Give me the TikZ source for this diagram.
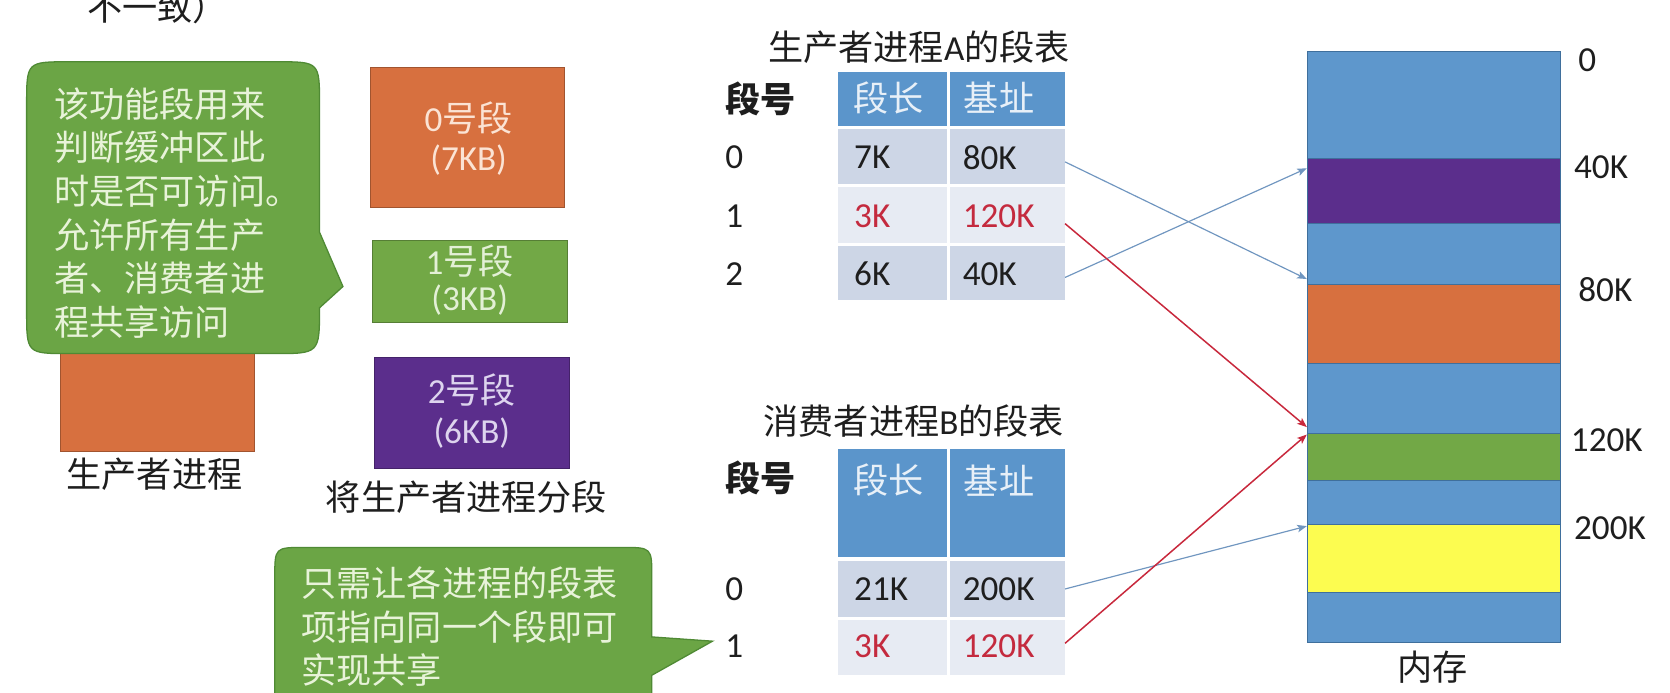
\documentclass[tikz,border=0pt]{standalone}
\usepackage{fontspec}
\setmainfont{Noto Sans CJK SC}
\newfontfamily\lat{Carlito}
\usetikzlibrary{arrows.meta}
\definecolor{cblue}{HTML}{5E97CC}
\definecolor{memedge}{HTML}{3F6F9C}
\definecolor{cpurple}{HTML}{5B2E8C}
\definecolor{corange}{HTML}{D7703F}
\definecolor{cgreen}{HTML}{72A846}
\definecolor{cyellow}{HTML}{FCFC50}
\definecolor{bubgreen}{HTML}{6BA545}
\definecolor{bubedge}{HTML}{4F8A34}
\definecolor{bubtext}{HTML}{E8F3D9}
\definecolor{rowdark}{HTML}{CDD6E6}
\definecolor{rowlight}{HTML}{E7EBF3}
\definecolor{hdr}{HTML}{5B95CB}
\definecolor{hdrtext}{HTML}{E8F0F8}
\definecolor{cred}{HTML}{C42A3E}
\definecolor{arrblue}{HTML}{7096C0}
\definecolor{arrred}{HTML}{C8283C}
\definecolor{ink}{HTML}{1E1E1E}
\definecolor{peach}{HTML}{FBE3D4}
\definecolor{palegreen}{HTML}{E3F0D6}
\definecolor{lavender}{HTML}{DDD4EE}
\begin{document}
\begin{tikzpicture}[x=1pt,y=-1pt,
  every node/.style={inner sep=0pt,outer sep=0pt},
  big/.style={font=\fontsize{33}{41}\selectfont},
  lbl/.style={big,text=ink},
  cell/.style={anchor=north west,draw=none},
  segbox/.style={anchor=north west,draw=#1!75!black,line width=0.8pt,fill=#1},
  memblk/.style={anchor=north west,draw=memedge,line width=0.8pt,fill=#1,minimum width=237pt},
  bubble/.style={fill=bubgreen,draw=bubedge,line width=1.2pt},
  bubtxt/.style={big,text=bubtext,align=left,anchor=north west},
  barrow/.style={draw=arrblue,line width=1.1pt,-{Stealth[length=9pt,width=7pt,inset=2pt]}},
  rarrow/.style={draw=arrred,line width=1.4pt,-{Stealth[length=9pt,width=7pt,inset=2pt]}}
]
\fill[white] (0,0) rectangle (1568,650);
\useasboundingbox (0,0) rectangle (1568,650);

% clipped title remnant
\node[lbl,anchor=base] (toptxt) at (148,19) {不一致）};

% producer process
\node[segbox=corange,minimum width=182pt,minimum height=174pt] (proc) at (57,250) {};
\node[lbl] (proclbl) at (145,445) {生产者进程};

% bubble 1
\path[bubble] (65,58) -- (260,58) .. controls (300,58) .. (300,98) -- (300,218)
  -- (322,269) -- (300,289) .. controls (300,332) .. (257,332) -- (65,332)
  .. controls (25,332) .. (25,292) -- (25,98) .. controls (25,58) .. (65,58) -- cycle;
\node[bubtxt] (b1txt) at (51,82) {该功能段用来\\判断缓冲区此\\时是否可访问。\\允许所有生产\\者、消费者进\\程共享访问};

% segments
\node[segbox=corange,minimum width=182pt,minimum height=132pt] (s0) at (348,63) {};
\node[big,text=peach] (s0a) at (440,111) {{\lat 0}号段};
\node[big,text=peach] (s0b) at (440,150) {\lat (7KB)};
\node[segbox=cgreen,minimum width=183pt,minimum height=77pt] (s1) at (350,226) {};
\node[big,text=palegreen] (s1a) at (441,245) {{\lat 1}号段};
\node[big,text=palegreen] (s1b) at (441,282) {\lat (3KB)};
\node[segbox=cpurple,minimum width=183pt,minimum height=104pt] (s2) at (352,336) {};
\node[big,text=lavender] (s2a) at (443,366) {{\lat 2}号段};
\node[big,text=lavender] (s2b) at (443,407) {\lat (6KB)};
\node[lbl] (seglbl) at (438,467) {将生产者进程分段};

% table A
\node[lbl] (titA) at (863,44) {生产者进程{\lat A}的段表};
\node[lbl,anchor=west,font=\fontsize{33}{41}\selectfont\bfseries] (noA) at (681,93) {段号};
\node[cell,fill=hdr,minimum width=102pt,minimum height=50pt] (ahl) at (787,68) {};
\node[cell,fill=hdr,minimum width=108pt,minimum height=50pt] (ahb) at (892,68) {};
\node[big,text=hdrtext,anchor=west] at (801,92) {段长};
\node[big,text=hdrtext,anchor=west] at (905,92) {基址};
\node[cell,fill=rowdark,minimum width=102pt,minimum height=52pt] (a0l) at (787,121) {};
\node[cell,fill=rowdark,minimum width=108pt,minimum height=52pt] (a0b) at (892,121) {};
\node[cell,fill=rowlight,minimum width=102pt,minimum height=52pt] (a1l) at (787,176) {};
\node[cell,fill=rowlight,minimum width=108pt,minimum height=52pt] (a1b) at (892,176) {};
\node[cell,fill=rowdark,minimum width=102pt,minimum height=51pt] (a2l) at (787,231) {};
\node[cell,fill=rowdark,minimum width=108pt,minimum height=51pt] (a2b) at (892,231) {};
\node[lbl,anchor=west] at (681,148) {\lat 0};
\node[lbl,anchor=west] at (681,203) {\lat 1};
\node[lbl,anchor=west] at (681,257) {\lat 2};
\node[lbl,anchor=west] at (802,148) {\lat 7K};
\node[lbl,anchor=west] at (904,148) {\lat 80K};
\node[big,text=cred,anchor=west] at (802,203) {\lat 3K};
\node[big,text=cred,anchor=west] at (904,203) {\lat 120K};
\node[lbl,anchor=west] at (802,257) {\lat 6K};
\node[lbl,anchor=west] at (904,257) {\lat 40K};

% table B
\node[lbl] (titB) at (858,395) {消费者进程{\lat B}的段表};
\node[lbl,anchor=west,font=\fontsize{33}{41}\selectfont\bfseries] (noB) at (681,449) {段号};
\node[cell,fill=hdr,minimum width=102pt,minimum height=101pt] (bhl) at (787,422) {};
\node[cell,fill=hdr,minimum width=108pt,minimum height=101pt] (bhb) at (892,422) {};
\node[big,text=hdrtext,anchor=west] at (801,451) {段长};
\node[big,text=hdrtext,anchor=west] at (905,451) {基址};
\node[cell,fill=rowdark,minimum width=102pt,minimum height=52pt] (b0l) at (787,527) {};
\node[cell,fill=rowdark,minimum width=108pt,minimum height=52pt] (b0b) at (892,527) {};
\node[cell,fill=rowlight,minimum width=102pt,minimum height=52pt] (b1l) at (787,582) {};
\node[cell,fill=rowlight,minimum width=108pt,minimum height=52pt] (b1b) at (892,582) {};
\node[lbl,anchor=west] at (681,553) {\lat 0};
\node[lbl,anchor=west] at (681,607) {\lat 1};
\node[lbl,anchor=west] at (802,553) {\lat 21K};
\node[lbl,anchor=west] at (904,553) {\lat 200K};
\node[big,text=cred,anchor=west] at (802,607) {\lat 3K};
\node[big,text=cred,anchor=west] at (904,607) {\lat 120K};

% bubble 2
\path[bubble] (286,514) -- (584,514) .. controls (612,514) .. (612,542) -- (612,598)
  -- (669,602) -- (612,634) -- (612,700) -- (258,700) -- (258,542)
  .. controls (258,514) .. (286,514) -- cycle;
\node[bubtxt] (b2txt) at (283,532) {只需让各进程的段表\\项指向同一个段即可\\实现共享};

% memory
\node[memblk=cblue,minimum height=101pt] (m0) at (1228,48) {};
\node[memblk=cpurple,minimum height=61pt] (m1) at (1228,149) {};
\node[memblk=cblue,minimum height=57pt] (m2) at (1228,210) {};
\node[memblk=corange,minimum height=74pt] (m3) at (1228,267) {};
\node[memblk=cblue,minimum height=66pt] (m4) at (1228,341) {};
\node[memblk=cgreen,minimum height=44pt] (m5) at (1228,407) {};
\node[memblk=cblue,minimum height=41pt] (m6) at (1228,451) {};
\node[memblk=cyellow,minimum height=64pt] (m7) at (1228,492) {};
\node[memblk=cblue,minimum height=47pt] (m8) at (1228,556) {};
\node[lbl,anchor=west] (l0) at (1482,57) {\lat 0};
\node[lbl,anchor=west] (l40) at (1478,157) {\lat 40K};
\node[lbl,anchor=west] (l80) at (1482,272) {\lat 80K};
\node[lbl,anchor=west] (l120) at (1475,413) {\lat 120K};
\node[lbl,anchor=west] (l200) at (1478,496) {\lat 200K};
\node[lbl] (memlbl) at (1345,626) {内存};

% arrow targets
\coordinate (tA0) at (1227,262);
\coordinate (tA1) at (1227,401);
\coordinate (tA2) at (1227,158);
\coordinate (tB0) at (1227,494);
\coordinate (tB1) at (1227,408);

\draw[barrow] ([yshift=-5pt]a0b.east) -- (tA0);
\draw[barrow] ([yshift=-4pt]a2b.east) -- (tA2);
\draw[rarrow] ([yshift=-8pt]a1b.east) -- (tA1);
\draw[barrow] (b0b.east) -- (tB0);
\draw[rarrow] ([yshift=4pt]b1b.east) -- (tB1);
\end{tikzpicture}
\end{document}
